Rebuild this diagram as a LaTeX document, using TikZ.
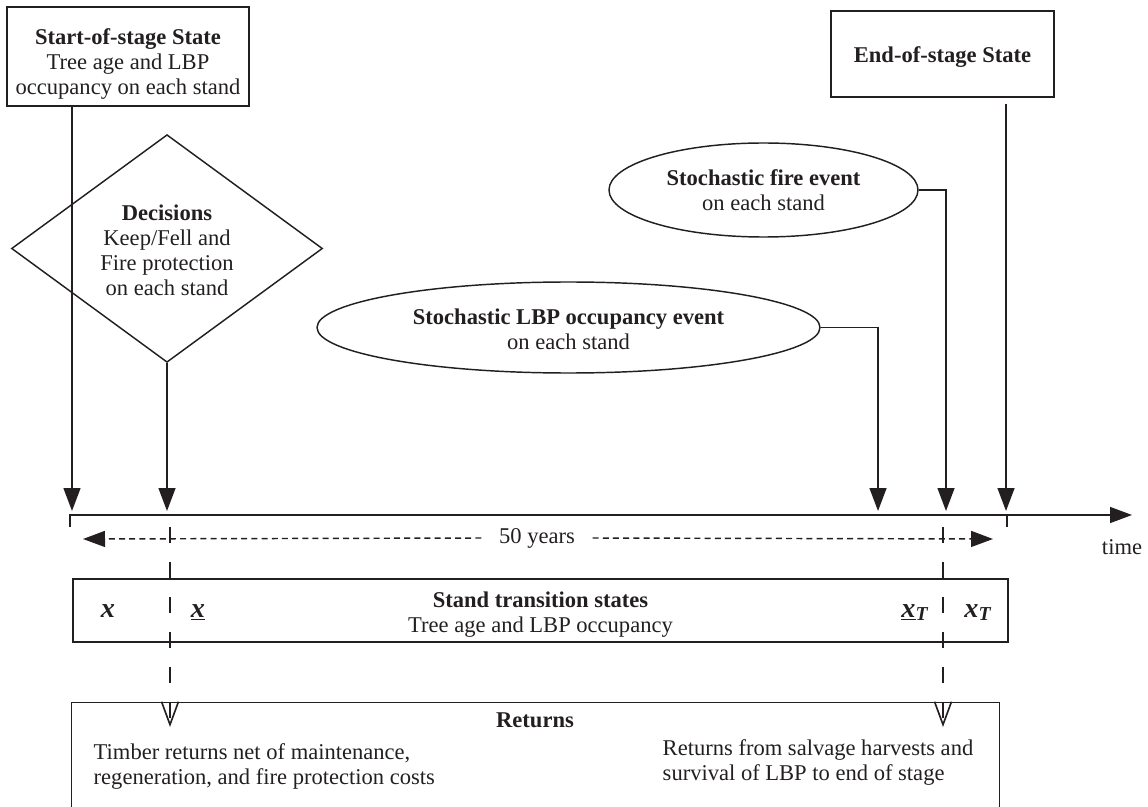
\documentclass[tikz,border=0pt]{standalone}
\usepackage{fontspec}
\setmainfont{Liberation Serif}
\usetikzlibrary{arrows.meta,shapes.geometric}
\definecolor{ink}{RGB}{35,31,32}
\begin{document}
\begin{tikzpicture}[x=0.55pt,y=-0.55pt,
  color=ink, line width=0.8pt,
  every node/.style={font=\fontsize{12.4}{13.75}\selectfont, align=center, inner sep=0pt},
  box/.style={draw, rectangle},
  oval/.style={draw, ellipse},
  decbox/.style={draw, diamond},
  xl/.style={font=\fontsize{15.5}{18}\selectfont\bfseries\itshape, anchor=base},
  arr/.style={-{Triangle[length=12.6pt,width=9.3pt]}},
  tarr/.style={-{Triangle[length=12.1pt,width=8.8pt]}},
  yarr/.style={-{Triangle[length=12.1pt,width=8.8pt]}, dash pattern=on 3.3pt off 2.3pt},
  barb/.style={-{Straight Barb[length=12.6pt,width=9.3pt,line width=0.9pt]}, dash pattern=on 8.8pt off 10.45pt}
]
\useasboundingbox (0,0) rectangle (1148,807);

% main nodes
\node[box, minimum width=133.1pt, minimum height=54.45pt] (start) at (128,56.5)
  {\rule{0pt}{17pt}\textbf{Start-of-stage State}\\Tree age and LBP\\occupancy on each stand};
\node[box, minimum width=122.65pt, minimum height=47.3pt] (end) at (942.5,54)
  {\rule{0pt}{11.7pt}\textbf{End-of-stage State}};
\node[decbox, minimum width=171.05pt, minimum height=113.85pt] (dec) at (167,248.5)
  {\rule{0pt}{10.5pt}\textbf{Decisions}\\Keep/Fell and\\Fire protection\\on each stand};
\node[oval, minimum width=276.65pt, minimum height=50.05pt] (lbp) at (568.5,327.5)
  {\rule{0pt}{10.5pt}\textbf{Stochastic LBP occupancy event}\\on each stand};
\node[oval, minimum width=169.95pt, minimum height=51.7pt] (fire) at (763.5,190)
  {\textbf{Stochastic fire event}\\on each stand};

% timeline points
\coordinate (t0) at (72,511);
\coordinate (t1) at (167,511);
\coordinate (t2) at (878,511);
\coordinate (t3) at (946,511);
\coordinate (t4) at (1006,511);
\coordinate (a0) at (70,527);
\coordinate (a1) at (70,515);
\coordinate (a2) at (1132,515);
\coordinate (b0) at (1007,515);
\coordinate (b1) at (1007,527);
\coordinate (y0) at (83,539);
\coordinate (y1) at (993,539);
\coordinate (d0) at (170,527);
\coordinate (d1) at (170,727);
\coordinate (d2) at (943,527);
\coordinate (d3) at (943,727);

% time axis
\draw[tarr] (a0) -- (a1) -- (a2);
\draw (b0) -- (b1);
\node (time) at (1122,547) {time};

% 50 years
\node[inner xsep=9.35pt, inner ysep=2pt] (fifty) at (537,538) {50 years};
\draw[yarr] (fifty.west) -- (y0);
\draw[yarr] (fifty.east) -- (y1);

% connectors to time axis
\draw[arr] (start.south -| t0) -- (t0);
\draw[arr] (dec.south) -- (t1);
\draw[arr] (lbp.east) -| (t2);
\draw[arr] (fire.east) -| (t3);
\draw[arr, shorten <=3.3pt] (end.south -| t4) -- (t4);

% transition states
\node[box, minimum width=514.25pt, minimum height=34.65pt] (trans) at (540.5,610.5)
  {\rule{0pt}{13pt}\textbf{Stand transition states}\\Tree age and LBP occupancy};
\node[xl] (x1) at (108,617) {x};
\node[xl] (x2) at (198,617) {\underline{x}};
\node[xl] (x3) at (915,617) {\underline{x}\textsubscript{T}};
\node[xl] (x4) at (978,617) {x\textsubscript{T}};

% returns
\node[minimum width=509.85pt, minimum height=57.2pt] (ret) at (535.5,755) {};
\draw (ret.south west) -- (ret.north west) -- (ret.north east) -- (ret.south east);
\node[font=\fontsize{12.4}{13.75}\selectfont\bfseries] (rett) at (535,720) {Returns};
\node[anchor=west, align=left] (retl) at (93,766)
  {Timber returns net of maintenance,\\regeneration, and fire protection costs};
\node[anchor=west, align=left] (retr) at (662,762)
  {Returns from salvage harvests and\\survival of LBP to end of stage};

% dashed drops
\draw[barb] (d0) -- (d1);
\draw[barb] (d2) -- (d3);
\end{tikzpicture}
\end{document}
